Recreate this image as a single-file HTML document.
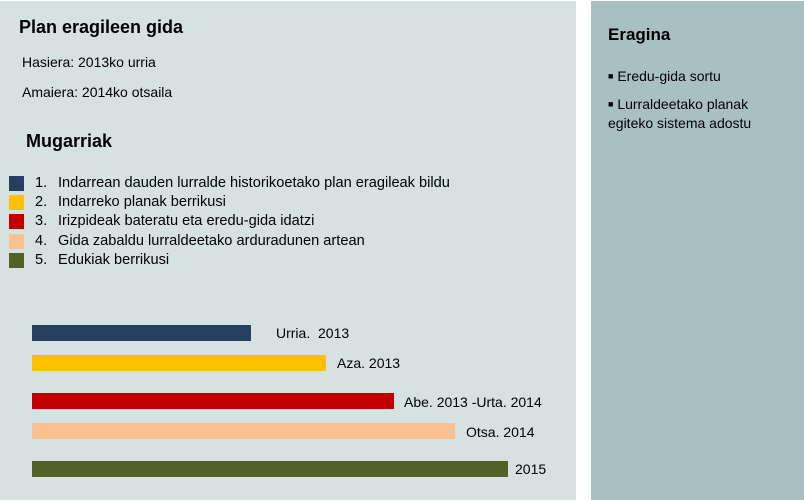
<!DOCTYPE html>
<html><head><style>
body{margin:0;width:804px;height:501px;background:#fff;position:relative;overflow:hidden;font-family:"Liberation Sans",sans-serif;color:#000}
div{position:absolute}
.t{white-space:nowrap;font-size:14px;line-height:16px}
.l{font-size:14.6px}
.sq{width:15px;height:15px;left:9px}
.bar{left:32px;height:16px}
</style></head><body>
<div style="left:0;top:1px;width:576px;height:499px;background:#d6e2e2"></div>
<div style="left:591px;top:1px;width:213px;height:499px;background:#a9c0c2"></div>
<div class="t" style="left:19px;top:16px;font-size:18px;line-height:22px;font-weight:bold">Plan eragileen gida</div>
<div class="t" style="left:22px;top:54px">Hasiera: 2013ko urria</div>
<div class="t" style="left:22px;top:84px">Amaiera: 2014ko otsaila</div>
<div class="t" style="left:26px;top:130px;font-size:18px;line-height:22px;font-weight:bold">Mugarriak</div>
<div class="sq" style="top:176px;background:#243f60"></div>
<div class="sq" style="top:195px;background:#ffc000"></div>
<div class="sq" style="top:214px;background:#c00000"></div>
<div class="sq" style="top:234px;background:#fac090"></div>
<div class="sq" style="top:253px;background:#4f6228"></div>
<div class="t l" style="left:35px;top:175px">1.</div><div class="t l" style="left:58px;top:175px">Indarrean dauden lurralde historikoetako plan eragileak bildu</div>
<div class="t l" style="left:35px;top:194px">2.</div><div class="t l" style="left:58px;top:194px">Indarreko planak berrikusi</div>
<div class="t l" style="left:35px;top:213px">3.</div><div class="t l" style="left:58px;top:213px">Irizpideak bateratu eta eredu-gida idatzi</div>
<div class="t l" style="left:35px;top:233px">4.</div><div class="t l" style="left:58px;top:233px">Gida zabaldu lurraldeetako arduradunen artean</div>
<div class="t l" style="left:35px;top:252px">5.</div><div class="t l" style="left:58px;top:252px">Edukiak berrikusi</div>
<div class="bar" style="top:325px;width:219px;background:#243f60"></div>
<div class="bar" style="top:355px;width:294px;background:#ffc000"></div>
<div class="bar" style="top:393px;width:362px;background:#c00000"></div>
<div class="bar" style="top:423px;width:423px;background:#fac090"></div>
<div class="bar" style="top:461px;width:476px;background:#4f6228"></div>
<div class="t" style="left:276px;top:325px">Urria.&nbsp; 2013</div>
<div class="t" style="left:337px;top:355px">Aza. 2013</div>
<div class="t" style="left:404px;top:394px">Abe. 2013 -Urta. 2014</div>
<div class="t" style="left:466px;top:424px">Otsa. 2014</div>
<div class="t" style="left:515px;top:461px">2015</div>
<div class="t" style="left:608px;top:24px;font-size:17px;line-height:22px;font-weight:bold">Eragina</div>
<div class="t" style="left:608px;top:68px"><span style="font-size:9px;vertical-align:2px">■</span> Eredu-gida sortu</div>
<div class="t" style="left:608px;top:95px;line-height:19px"><span style="font-size:9px;vertical-align:2px">■</span> Lurraldeetako planak<br>egiteko sistema adostu</div>
</body></html>
